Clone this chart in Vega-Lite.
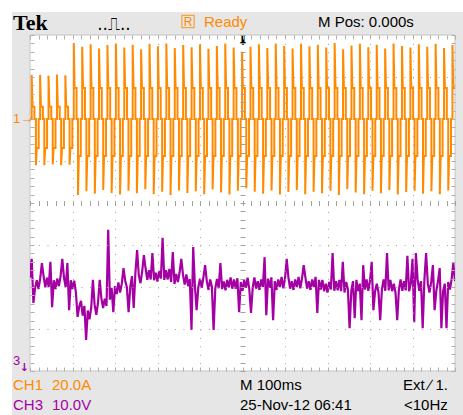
{
"$schema":"https://vega.github.io/schema/vega-lite/v6.json",
"width":425,"height":336,
"autosize":{"type":"none"},
"padding":{"left":30,"top":35,"right":8,"bottom":44},
"background":"white",
"config":{"view":{"stroke":null}},
"datasets":{
"ch1":[
{"t":0,"v":2},
{"t":4,"v":2},{"t":4,"v":3.05},{"t":6,"v":2.29},{"t":10.5,"v":2.29},{"t":10.5,"v":2},{"t":13.9,"v":2},{"t":13.9,"v":0.9},{"t":15.9,"v":1.31},{"t":20.4,"v":1.31},{"t":20.4,"v":2},
{"t":23.8,"v":2},{"t":23.8,"v":3.05},{"t":25.8,"v":2.29},{"t":30.3,"v":2.29},{"t":30.3,"v":2},{"t":33.7,"v":2},{"t":33.7,"v":0.9},{"t":35.7,"v":1.31},{"t":40.2,"v":1.31},{"t":40.2,"v":2},
{"t":43.6,"v":2},{"t":43.6,"v":3.03},{"t":45.6,"v":2.29},{"t":50.1,"v":2.29},{"t":50.1,"v":2},{"t":53.5,"v":2},{"t":53.5,"v":0.92},{"t":55.5,"v":1.31},{"t":60,"v":1.31},{"t":60,"v":2},
{"t":63.4,"v":2},{"t":63.4,"v":3.06},{"t":65.4,"v":2.29},{"t":69.9,"v":2.29},{"t":69.9,"v":2},{"t":73.3,"v":2},{"t":73.3,"v":0.9},{"t":75.3,"v":1.31},{"t":79.8,"v":1.31},{"t":79.8,"v":2},
{"t":83.2,"v":2},{"t":83.2,"v":3.04},{"t":85.2,"v":2.29},{"t":89.7,"v":2.29},{"t":89.7,"v":2},{"t":93.1,"v":2},{"t":93.1,"v":0.91},{"t":95.1,"v":1.31},{"t":99.6,"v":1.31},{"t":99.6,"v":2},
{"t":103,"v":2},{"t":103,"v":3.81},{"t":105,"v":2.74},{"t":109.5,"v":2.74},{"t":109.5,"v":2},{"t":112.9,"v":2},{"t":112.9,"v":0.19},{"t":114.9,"v":1.12},{"t":119.4,"v":1.12},{"t":119.4,"v":2},
{"t":122.8,"v":2},{"t":122.8,"v":3.72},{"t":124.8,"v":2.74},{"t":129.3,"v":2.74},{"t":129.3,"v":2},{"t":132.7,"v":2},{"t":132.7,"v":0.28},{"t":134.7,"v":1.12},{"t":139.2,"v":1.12},{"t":139.2,"v":2},
{"t":142.6,"v":2},{"t":142.6,"v":3.78},{"t":144.6,"v":2.74},{"t":149.1,"v":2.74},{"t":149.1,"v":2},{"t":152.5,"v":2},{"t":152.5,"v":0.22},{"t":154.5,"v":1.12},{"t":159,"v":1.12},{"t":159,"v":2},
{"t":162.4,"v":2},{"t":162.4,"v":3.68},{"t":164.4,"v":2.74},{"t":168.9,"v":2.74},{"t":168.9,"v":2},{"t":172.3,"v":2},{"t":172.3,"v":0.31},{"t":174.3,"v":1.12},{"t":178.8,"v":1.12},{"t":178.8,"v":2},
{"t":182.2,"v":2},{"t":182.2,"v":3.76},{"t":184.2,"v":2.74},{"t":188.7,"v":2.74},{"t":188.7,"v":2},{"t":192.1,"v":2},{"t":192.1,"v":0.24},{"t":194.1,"v":1.12},{"t":198.6,"v":1.12},{"t":198.6,"v":2},
{"t":202,"v":2},{"t":202,"v":3.8},{"t":204,"v":2.74},{"t":208.5,"v":2.74},{"t":208.5,"v":2},{"t":211.9,"v":2},{"t":211.9,"v":0.2},{"t":213.9,"v":1.12},{"t":218.4,"v":1.12},{"t":218.4,"v":2},
{"t":221.8,"v":2},{"t":221.8,"v":3.7},{"t":223.8,"v":2.74},{"t":228.3,"v":2.74},{"t":228.3,"v":2},{"t":231.7,"v":2},{"t":231.7,"v":0.29},{"t":233.7,"v":1.12},{"t":238.2,"v":1.12},{"t":238.2,"v":2},
{"t":241.6,"v":2},{"t":241.6,"v":3.77},{"t":243.6,"v":2.74},{"t":248.1,"v":2.74},{"t":248.1,"v":2},{"t":251.5,"v":2},{"t":251.5,"v":0.23},{"t":253.5,"v":1.12},{"t":258,"v":1.12},{"t":258,"v":2},
{"t":261.4,"v":2},{"t":261.4,"v":3.66},{"t":263.4,"v":2.74},{"t":267.9,"v":2.74},{"t":267.9,"v":2},{"t":271.3,"v":2},{"t":271.3,"v":0.33},{"t":273.3,"v":1.12},{"t":277.8,"v":1.12},{"t":277.8,"v":2},
{"t":281.2,"v":2},{"t":281.2,"v":3.79},{"t":283.2,"v":2.74},{"t":287.7,"v":2.74},{"t":287.7,"v":2},{"t":291.1,"v":2},{"t":291.1,"v":0.21},{"t":293.1,"v":1.12},{"t":297.6,"v":1.12},{"t":297.6,"v":2},
{"t":301,"v":2},{"t":301,"v":3.73},{"t":303,"v":2.74},{"t":307.5,"v":2.74},{"t":307.5,"v":2},{"t":310.9,"v":2},{"t":310.9,"v":0.27},{"t":312.9,"v":1.12},{"t":317.4,"v":1.12},{"t":317.4,"v":2},
{"t":320.8,"v":2},{"t":320.8,"v":3.8},{"t":322.8,"v":2.74},{"t":327.3,"v":2.74},{"t":327.3,"v":2},{"t":330.7,"v":2},{"t":330.7,"v":0.19},{"t":332.7,"v":1.12},{"t":337.2,"v":1.12},{"t":337.2,"v":2},
{"t":340.6,"v":2},{"t":340.6,"v":3.69},{"t":342.6,"v":2.74},{"t":347.1,"v":2.74},{"t":347.1,"v":2},{"t":350.5,"v":2},{"t":350.5,"v":0.3},{"t":352.5,"v":1.12},{"t":357,"v":1.12},{"t":357,"v":2},
{"t":360.4,"v":2},{"t":360.4,"v":3.76},{"t":362.4,"v":2.74},{"t":366.9,"v":2.74},{"t":366.9,"v":2},{"t":370.3,"v":2},{"t":370.3,"v":0.24},{"t":372.3,"v":1.12},{"t":376.8,"v":1.12},{"t":376.8,"v":2},
{"t":380.2,"v":2},{"t":380.2,"v":3.71},{"t":382.2,"v":2.74},{"t":386.7,"v":2.74},{"t":386.7,"v":2},{"t":390.1,"v":2},{"t":390.1,"v":0.28},{"t":392.1,"v":1.12},{"t":396.6,"v":1.12},{"t":396.6,"v":2},
{"t":400,"v":2},{"t":400,"v":3.78},{"t":402,"v":2.74},{"t":406.5,"v":2.74},{"t":406.5,"v":2},{"t":409.9,"v":2},{"t":409.9,"v":0.21},{"t":411.9,"v":1.12},{"t":416.4,"v":1.12},{"t":416.4,"v":2},
{"t":419.8,"v":2},{"t":419.8,"v":3.67},{"t":421.8,"v":2.74},{"t":426.3,"v":2.74},{"t":426.3,"v":2},{"t":429.7,"v":2},{"t":429.7,"v":0.32},{"t":431.7,"v":1.12},{"t":436.2,"v":1.12},{"t":436.2,"v":2},
{"t":439.6,"v":2},{"t":439.6,"v":3.74},{"t":441.6,"v":2.74},{"t":446.1,"v":2.74},{"t":446.1,"v":2},{"t":449.5,"v":2},{"t":449.5,"v":0.25},{"t":451.5,"v":1.12},{"t":456,"v":1.12},{"t":456,"v":2},
{"t":459.4,"v":2},{"t":459.4,"v":3.8},{"t":461.4,"v":2.74},{"t":465.9,"v":2.74},{"t":465.9,"v":2},{"t":469.3,"v":2},{"t":469.3,"v":0.2},{"t":471.3,"v":1.12},{"t":475.8,"v":1.12},{"t":475.8,"v":2},
{"t":479.2,"v":2},{"t":479.2,"v":3.7},{"t":481.2,"v":2.74},{"t":485.7,"v":2.74},{"t":485.7,"v":2},{"t":489.1,"v":2},{"t":489.1,"v":0.29},{"t":491.1,"v":1.12},{"t":495.6,"v":1.12},{"t":495.6,"v":2},
{"t":499,"v":2},{"t":499,"v":3.6},{"t":501,"v":2.74},{"t":505.5,"v":2.74},{"t":505.5,"v":2},{"t":508.9,"v":2},{"t":508.9,"v":0.35},{"t":510.9,"v":1.12},{"t":515.4,"v":1.12},{"t":515.4,"v":2},
{"t":518.8,"v":2},{"t":518.8,"v":3.72},{"t":520.8,"v":2.74},{"t":525.3,"v":2.74},{"t":525.3,"v":2},{"t":528.7,"v":2},{"t":528.7,"v":0.27},{"t":530.7,"v":1.12},{"t":535.2,"v":1.12},{"t":535.2,"v":2},
{"t":538.6,"v":2},{"t":538.6,"v":3.78},{"t":540.6,"v":2.74},{"t":545.1,"v":2.74},{"t":545.1,"v":2},{"t":548.5,"v":2},{"t":548.5,"v":0.22},{"t":550.5,"v":1.12},{"t":555,"v":1.12},{"t":555,"v":2},
{"t":558.4,"v":2},{"t":558.4,"v":3.69},{"t":560.4,"v":2.74},{"t":564.9,"v":2.74},{"t":564.9,"v":2},{"t":568.3,"v":2},{"t":568.3,"v":0.3},{"t":570.3,"v":1.12},{"t":574.8,"v":1.12},{"t":574.8,"v":2},
{"t":578.2,"v":2},{"t":578.2,"v":3.8},{"t":580.2,"v":2.74},{"t":584.7,"v":2.74},{"t":584.7,"v":2},{"t":588.1,"v":2},{"t":588.1,"v":0.2},{"t":590.1,"v":1.12},{"t":594.6,"v":1.12},{"t":594.6,"v":2},
{"t":598,"v":2},{"t":598,"v":3.74},{"t":600,"v":2.74},{"t":604.5,"v":2.74},{"t":604.5,"v":2},{"t":607.9,"v":2},{"t":607.9,"v":0.26},{"t":609.9,"v":1.12},{"t":614.4,"v":1.12},{"t":614.4,"v":2},
{"t":617.8,"v":2},{"t":617.8,"v":3.68},{"t":619.8,"v":2.74},{"t":624.3,"v":2.74},{"t":624.3,"v":2},{"t":627.7,"v":2},{"t":627.7,"v":0.31},{"t":629.7,"v":1.12},{"t":634.2,"v":1.12},{"t":634.2,"v":2},
{"t":637.6,"v":2},{"t":637.6,"v":3.79},{"t":639.6,"v":2.74},{"t":644.1,"v":2.74},{"t":644.1,"v":2},{"t":647.5,"v":2},{"t":647.5,"v":0.21},{"t":649.5,"v":1.12},{"t":654,"v":1.12},{"t":654,"v":2},
{"t":657.4,"v":2},{"t":657.4,"v":3.73},{"t":659.4,"v":2.74},{"t":663.9,"v":2.74},{"t":663.9,"v":2},{"t":667.3,"v":2},{"t":667.3,"v":0.27},{"t":669.3,"v":1.12},{"t":673.8,"v":1.12},{"t":673.8,"v":2},
{"t":677.2,"v":2},{"t":677.2,"v":3.77},{"t":679.2,"v":2.74},{"t":683.7,"v":2.74},{"t":683.7,"v":2},{"t":687.1,"v":2},{"t":687.1,"v":0.23},{"t":689.1,"v":1.12},{"t":693.6,"v":1.12},{"t":693.6,"v":2},
{"t":697,"v":2},{"t":697,"v":3.7},{"t":699,"v":2.74},{"t":703.5,"v":2.74},{"t":703.5,"v":2},{"t":706.9,"v":2},{"t":706.9,"v":0.29},{"t":708.9,"v":1.12},{"t":713.4,"v":1.12},{"t":713.4,"v":2},
{"t":716.8,"v":2},{"t":716.8,"v":3.81},{"t":718.8,"v":2.74},{"t":723.3,"v":2.74},{"t":723.3,"v":2},{"t":726.7,"v":2},{"t":726.7,"v":0.19},{"t":728.7,"v":1.12},{"t":733.2,"v":1.12},{"t":733.2,"v":2},
{"t":736.6,"v":2},{"t":736.6,"v":3.66},{"t":738.6,"v":2.74},{"t":743.1,"v":2.74},{"t":743.1,"v":2},{"t":746.5,"v":2},{"t":746.5,"v":0.33},{"t":748.5,"v":1.12},{"t":753,"v":1.12},{"t":753,"v":2},
{"t":756.4,"v":2},{"t":756.4,"v":3.75},{"t":758.4,"v":2.74},{"t":762.9,"v":2.74},{"t":762.9,"v":2},{"t":766.3,"v":2},{"t":766.3,"v":0.25},{"t":768.3,"v":1.12},{"t":772.8,"v":1.12},{"t":772.8,"v":2},
{"t":776.2,"v":2},{"t":776.2,"v":3.79},{"t":778.2,"v":2.74},{"t":782.7,"v":2.74},{"t":782.7,"v":2},{"t":786.1,"v":2},{"t":786.1,"v":0.21},{"t":788.1,"v":1.12},{"t":792.6,"v":1.12},{"t":792.6,"v":2},
{"t":796,"v":2},{"t":796,"v":3.71},{"t":798,"v":2.74},{"t":802.5,"v":2.74},{"t":802.5,"v":2},{"t":805.9,"v":2},{"t":805.9,"v":0.29},{"t":807.9,"v":1.12},{"t":812.4,"v":1.12},{"t":812.4,"v":2},
{"t":815.8,"v":2},{"t":815.8,"v":3.77},{"t":817.8,"v":2.74},{"t":822.3,"v":2.74},{"t":822.3,"v":2},{"t":825.7,"v":2},{"t":825.7,"v":0.23},{"t":827.7,"v":1.12},{"t":832.2,"v":1.12},{"t":832.2,"v":2},
{"t":835.6,"v":2},{"t":835.6,"v":3.68},{"t":837.6,"v":2.74},{"t":842.1,"v":2.74},{"t":842.1,"v":2},{"t":845.5,"v":2},{"t":845.5,"v":0.31},{"t":847.5,"v":1.12},{"t":852,"v":1.12},{"t":852,"v":2},
{"t":855.4,"v":2},{"t":855.4,"v":3.8},{"t":857.4,"v":2.74},{"t":861.9,"v":2.74},{"t":861.9,"v":2},{"t":865.3,"v":2},{"t":865.3,"v":0.2},{"t":867.3,"v":1.12},{"t":871.8,"v":1.12},{"t":871.8,"v":2},
{"t":875.2,"v":2},{"t":875.2,"v":3.74},{"t":877.2,"v":2.74},{"t":881.7,"v":2.74},{"t":881.7,"v":2},{"t":885.1,"v":2},{"t":885.1,"v":0.26},{"t":887.1,"v":1.12},{"t":891.6,"v":1.12},{"t":891.6,"v":2},
{"t":895,"v":2},{"t":895,"v":3.7},{"t":897,"v":2.74},{"t":901.5,"v":2.74},{"t":901.5,"v":2},{"t":904.9,"v":2},{"t":904.9,"v":0.29},{"t":906.9,"v":1.12},{"t":911.4,"v":1.12},{"t":911.4,"v":2},
{"t":914.8,"v":2},{"t":914.8,"v":3.78},{"t":916.8,"v":2.74},{"t":921.3,"v":2.74},{"t":921.3,"v":2},{"t":924.7,"v":2},{"t":924.7,"v":0.22},{"t":926.7,"v":1.12},{"t":931.2,"v":1.12},{"t":931.2,"v":2},
{"t":934.6,"v":2},{"t":934.6,"v":3.72},{"t":936.6,"v":2.74},{"t":941.1,"v":2.74},{"t":941.1,"v":2},{"t":944.5,"v":2},{"t":944.5,"v":0.28},{"t":946.5,"v":1.12},{"t":951,"v":1.12},{"t":951,"v":2},
{"t":954.4,"v":2},{"t":954.4,"v":3.79},{"t":956.4,"v":2.74},{"t":960.9,"v":2.74},{"t":960.9,"v":2},{"t":964.3,"v":2},{"t":964.3,"v":0.21},{"t":966.3,"v":1.12},{"t":970.8,"v":1.12},{"t":970.8,"v":2},
{"t":974.2,"v":2},{"t":974.2,"v":3.69},{"t":976.2,"v":2.74},{"t":980.7,"v":2.74},{"t":980.7,"v":2},{"t":984.1,"v":2},{"t":984.1,"v":0.3},{"t":986.1,"v":1.12},{"t":990.6,"v":1.12},{"t":990.6,"v":2},
{"t":994,"v":2},{"t":994,"v":3.76},{"t":996,"v":2.74},{"t":1000.5,"v":2.74}
],
"ch3":[
{"t":0,"v":-1.78},{"t":4,"v":-1.33},{"t":8,"v":-2.38},{"t":12,"v":-2.02},{"t":16,"v":-1.84},{"t":20,"v":-2.05},{"t":24,"v":-1.8},{"t":28,"v":-1.43},{"t":32,"v":-1.74},{"t":36,"v":-2.01},
{"t":40,"v":-1.78},{"t":44,"v":-2.0},{"t":48,"v":-1.4},{"t":52,"v":-2.48},{"t":56,"v":-1.84},{"t":60,"v":-2.05},{"t":64,"v":-1.8},{"t":68,"v":-1.98},{"t":72,"v":-1.74},{"t":76,"v":-1.33},
{"t":80,"v":-1.78},{"t":84,"v":-2.0},{"t":88,"v":-1.43},{"t":92,"v":-2.55},{"t":96,"v":-1.84},{"t":100,"v":-2.05},{"t":104,"v":-1.85},{"t":108,"v":-2.13},{"t":112,"v":-2.71},{"t":116,"v":-2.46},
{"t":120,"v":-2.33},{"t":124,"v":-2.68},{"t":128,"v":-2.45},{"t":132,"v":-3.26},{"t":136,"v":-2.56},{"t":140,"v":-2.77},{"t":144,"v":-2.5},{"t":148,"v":-1.83},{"t":152,"v":-2.42},{"t":156,"v":-2.66},
{"t":160,"v":-2.38},{"t":164,"v":-1.83},{"t":168,"v":-2.27},{"t":172,"v":-2.5},{"t":176,"v":-2.28},{"t":180,"v":-2.45},{"t":184,"v":-0.64},{"t":188,"v":-2.3},{"t":192,"v":-2.02},{"t":196,"v":-2.6},
{"t":200,"v":-1.98},{"t":204,"v":-2.17},{"t":208,"v":-1.89},{"t":212,"v":-2.13},{"t":216,"v":-1.92},{"t":220,"v":-1.55},{"t":224,"v":-1.85},{"t":228,"v":-2.01},{"t":232,"v":-2.6},{"t":236,"v":-1.99},
{"t":240,"v":-1.74},{"t":244,"v":-2.5},{"t":248,"v":-1.67},{"t":252,"v":-1.12},{"t":256,"v":-1.72},{"t":260,"v":-1.91},{"t":264,"v":-1.62},{"t":268,"v":-1.24},{"t":272,"v":-1.56},{"t":276,"v":-1.83},
{"t":280,"v":-1.6},{"t":284,"v":-1.82},{"t":288,"v":-1.19},{"t":292,"v":-1.84},{"t":296,"v":-1.66},{"t":300,"v":-1.87},{"t":304,"v":-1.62},{"t":308,"v":-1.8},{"t":312,"v":-0.83},{"t":316,"v":-1.83},
{"t":320,"v":-1.6},{"t":324,"v":-1.82},{"t":328,"v":-1.57},{"t":332,"v":-1.88},{"t":336,"v":-1.17},{"t":340,"v":-1.93},{"t":344,"v":-1.69},{"t":348,"v":-1.88},{"t":352,"v":-1.65},{"t":356,"v":-1.33},
{"t":360,"v":-1.71},{"t":364,"v":-1.94},{"t":368,"v":-1.7},{"t":372,"v":-1.98},{"t":376,"v":-1.81},{"t":380,"v":-3.02},{"t":384,"v":-1.05},{"t":388,"v":-1.97},{"t":392,"v":-2.55},{"t":396,"v":-2.01},
{"t":400,"v":-1.8},{"t":404,"v":-2.02},{"t":408,"v":-1.77},{"t":412,"v":-1.48},{"t":416,"v":-1.86},{"t":420,"v":-2.07},{"t":424,"v":-1.82},{"t":428,"v":-2.0},{"t":432,"v":-3.02},{"t":436,"v":-2.03},
{"t":440,"v":-1.81},{"t":444,"v":-2.03},{"t":448,"v":-1.43},{"t":452,"v":-2.05},{"t":456,"v":-1.87},{"t":460,"v":-2.08},{"t":464,"v":-1.83},{"t":468,"v":-2.01},{"t":472,"v":-1.77},{"t":476,"v":-2.04},
{"t":480,"v":-1.82},{"t":484,"v":-2.04},{"t":488,"v":-1.79},{"t":492,"v":-2.6},{"t":496,"v":-1.88},{"t":500,"v":-2.09},{"t":504,"v":-1.84},{"t":508,"v":-2.02},{"t":512,"v":-1.78},{"t":516,"v":-2.05},
{"t":520,"v":-2.62},{"t":524,"v":-2.02},{"t":528,"v":-1.77},{"t":532,"v":-2.04},{"t":536,"v":-1.86},{"t":540,"v":-2.07},{"t":544,"v":-1.82},{"t":548,"v":-2.0},{"t":552,"v":-1.29},{"t":556,"v":-2.67},
{"t":560,"v":-1.8},{"t":564,"v":-2.02},{"t":568,"v":-1.77},{"t":572,"v":-2.79},{"t":576,"v":-1.86},{"t":580,"v":-2.07},{"t":584,"v":-1.82},{"t":588,"v":-2.0},{"t":592,"v":-1.76},{"t":596,"v":-2.03},
{"t":600,"v":-1.8},{"t":604,"v":-1.33},{"t":608,"v":-1.77},{"t":612,"v":-2.04},{"t":616,"v":-1.86},{"t":620,"v":-2.07},{"t":624,"v":-1.82},{"t":628,"v":-2.0},{"t":632,"v":-1.76},{"t":636,"v":-2.03},
{"t":640,"v":-1.8},{"t":644,"v":-1.48},{"t":648,"v":-1.77},{"t":652,"v":-2.04},{"t":656,"v":-1.86},{"t":660,"v":-2.07},{"t":664,"v":-1.82},{"t":668,"v":-2.0},{"t":672,"v":-1.76},{"t":676,"v":-2.62},
{"t":680,"v":-1.83},{"t":684,"v":-2.06},{"t":688,"v":-1.83},{"t":692,"v":-2.1},{"t":696,"v":-1.92},{"t":700,"v":-2.13},{"t":704,"v":-1.88},{"t":708,"v":-2.06},{"t":712,"v":-1.19},{"t":716,"v":-2.09},
{"t":720,"v":-1.86},{"t":724,"v":-2.08},{"t":728,"v":-1.83},{"t":732,"v":-2.1},{"t":736,"v":-1.4},{"t":740,"v":-2.13},{"t":744,"v":-1.88},{"t":748,"v":-2.06},{"t":752,"v":-2.98},{"t":756,"v":-2.09},
{"t":760,"v":-1.86},{"t":764,"v":-2.74},{"t":768,"v":-1.83},{"t":772,"v":-2.1},{"t":776,"v":-1.92},{"t":780,"v":-2.79},{"t":784,"v":-1.48},{"t":788,"v":-2.06},{"t":792,"v":-1.82},{"t":796,"v":-2.09},
{"t":800,"v":-1.86},{"t":804,"v":-1.4},{"t":808,"v":-2.55},{"t":812,"v":-2.1},{"t":816,"v":-1.92},{"t":820,"v":-2.13},{"t":824,"v":-2.79},{"t":828,"v":-2.06},{"t":832,"v":-1.82},{"t":836,"v":-2.09},
{"t":840,"v":-1.19},{"t":844,"v":-2.08},{"t":848,"v":-1.83},{"t":852,"v":-2.1},{"t":856,"v":-1.92},{"t":860,"v":-2.13},{"t":864,"v":-2.79},{"t":868,"v":-2.06},{"t":872,"v":-1.82},{"t":876,"v":-2.09},
{"t":880,"v":-1.86},{"t":884,"v":-2.08},{"t":888,"v":-1.26},{"t":892,"v":-2.1},{"t":896,"v":-1.92},{"t":900,"v":-1.33},{"t":904,"v":-2.84},{"t":908,"v":-1.19},{"t":912,"v":-1.82},{"t":916,"v":-2.09},
{"t":920,"v":-1.86},{"t":924,"v":-2.98},{"t":928,"v":-1.83},{"t":932,"v":-1.19},{"t":936,"v":-1.92},{"t":940,"v":-2.13},{"t":944,"v":-1.88},{"t":948,"v":-1.48},{"t":952,"v":-2.55},{"t":956,"v":-2.09},
{"t":960,"v":-1.86},{"t":964,"v":-1.55},{"t":968,"v":-2.98},{"t":972,"v":-2.1},{"t":976,"v":-1.92},{"t":980,"v":-2.98},{"t":984,"v":-1.88},{"t":988,"v":-2.06},{"t":992,"v":-1.82},{"t":996,"v":-1.43},
{"t":1000,"v":-1.86}
]
},
"resolve":{"axis":{"x":"independent","y":"independent"}},
"layer":[
{"data":{"values":[{}]},
 "mark":{"type":"rect","color":"#e6e6e6","clip":false},
 "encoding":{
  "x":{"datum":-42.4,"type":"quantitative","scale":{"domain":[0,1000],"nice":false,"zero":false},
   "axis":{"orient":"bottom","values":[100,200,300,400,600,700,800,900],"grid":true,"gridDash":[1,7.4],"gridColor":"#a0a0a0","ticks":false,"labels":false,"domain":false,"title":null,"zindex":1}},
  "x2":{"datum":1020},
  "y":{"datum":4.55,"type":"quantitative","scale":{"domain":[-4,4],"nice":false,"zero":false},
   "axis":{"orient":"left","values":[-3,-2,-1,1,2,3],"grid":true,"gridDash":[1,7.5],"gridColor":"#a0a0a0","ticks":false,"labels":false,"domain":false,"title":null,"zindex":1}},
  "y2":{"datum":-5.2}}},
{"data":{"values":[{}]},
 "mark":{"type":"rect","fill":"white","stroke":"#c4c4c4","strokeWidth":1,"clip":false},
 "encoding":{
  "x":{"datum":0,"type":"quantitative",
   "axis":{"orient":"bottom","offset":-4,"tickSize":4,"tickColor":"#b0b0b0","values":[0,20,40,60,80,100,120,140,160,180,200,220,240,260,280,300,320,340,360,380,400,420,440,460,480,500,520,540,560,580,600,620,640,660,680,700,720,740,760,780,800,820,840,860,880,900,920,940,960,980,1000],"labels":false,"domain":false,"grid":false,"title":null,"zindex":1}},
  "x2":{"datum":1000},
  "y":{"datum":-4,"type":"quantitative",
   "axis":{"orient":"left","offset":-4,"tickSize":4,"tickColor":"#b0b0b0","values":[-4,-3.8,-3.6,-3.4,-3.2,-3,-2.8,-2.6,-2.4,-2.2,-2,-1.8,-1.6,-1.4,-1.2,-1,-0.8,-0.6,-0.4,-0.2,0,0.2,0.4,0.6,0.8,1,1.2,1.4,1.6,1.8,2,2.2,2.4,2.6,2.8,3,3.2,3.4,3.6,3.8,4],"labels":false,"domain":false,"grid":false,"title":null,"zindex":1}},
  "y2":{"datum":4}}},
{"data":{"name":"ch1"},
 "mark":{"type":"line","color":"#ff8a00","strokeWidth":2,"clip":true},
 "encoding":{
  "x":{"field":"t","type":"quantitative",
   "axis":{"orient":"top","offset":-4,"tickSize":4,"tickColor":"#b0b0b0","values":[0,20,40,60,80,100,120,140,160,180,200,220,240,260,280,300,320,340,360,380,400,420,440,460,480,500,520,540,560,580,600,620,640,660,680,700,720,740,760,780,800,820,840,860,880,900,920,940,960,980,1000],"labels":false,"domain":false,"grid":false,"title":null,"zindex":1}},
  "y":{"field":"v","type":"quantitative",
   "axis":{"orient":"right","offset":-4,"tickSize":4,"tickColor":"#b0b0b0","values":[-4,-3.8,-3.6,-3.4,-3.2,-3,-2.8,-2.6,-2.4,-2.2,-2,-1.8,-1.6,-1.4,-1.2,-1,-0.8,-0.6,-0.4,-0.2,0,0.2,0.4,0.6,0.8,1,1.2,1.4,1.6,1.8,2,2.2,2.4,2.6,2.8,3,3.2,3.4,3.6,3.8,4],"labels":false,"domain":false,"grid":false,"title":null,"zindex":1}},
  "order":{"value":null}}},
{"data":{"name":"ch3"},
 "mark":{"type":"line","color":"#a400a4","strokeWidth":2.2,"clip":true},
 "encoding":{
  "x":{"field":"t","type":"quantitative",
   "axis":{"orient":"bottom","offset":-170.5,"tickSize":5,"tickColor":"#a0a0a0","values":[0,20,40,60,80,100,120,140,160,180,200,220,240,260,280,300,320,340,360,380,400,420,440,460,480,500,520,540,560,580,600,620,640,660,680,700,720,740,760,780,800,820,840,860,880,900,920,940,960,980,1000],"labels":false,"domain":false,"grid":false,"title":null,"zindex":1}},
  "y":{"field":"v","type":"quantitative",
   "axis":{"orient":"left","offset":-215,"tickSize":5,"tickColor":"#a0a0a0","values":[-4,-3.8,-3.6,-3.4,-3.2,-3,-2.8,-2.6,-2.4,-2.2,-2,-1.8,-1.6,-1.4,-1.2,-1,-0.8,-0.6,-0.4,-0.2,0,0.2,0.4,0.6,0.8,1,1.2,1.4,1.6,1.8,2,2.2,2.4,2.6,2.8,3,3.2,3.4,3.6,3.8,4],"labels":false,"domain":false,"grid":false,"title":null,"zindex":1}},
  "order":{"value":null}}},
{"data":{"values":[{}]},"mark":{"type":"text","text":"Tek","font":"Liberation Serif","fontWeight":"bold","fontSize":22,"align":"left","baseline":"alphabetic","color":"#000000"},
 "encoding":{"x":{"datum":-40,"type":"quantitative","axis":null},"y":{"datum":4.12,"type":"quantitative","axis":null}}},
{"data":{"values":[{}]},"mark":{"type":"text","text":"..⎍..","font":"DejaVu Sans","fontSize":17,"align":"left","baseline":"alphabetic","color":"#000000"},
 "encoding":{"x":{"datum":158,"type":"quantitative","axis":null},"y":{"datum":4.12,"type":"quantitative","axis":null}}},
{"data":{"values":[{}]},"mark":{"type":"point","shape":"square","size":150,"filled":false,"stroke":"#ff8a00","strokeWidth":1.3},
 "encoding":{"x":{"datum":371.8,"type":"quantitative","axis":null},"y":{"datum":4.32,"type":"quantitative","axis":null}}},
{"data":{"values":[{}]},"mark":{"type":"text","text":"R","font":"Liberation Sans","fontSize":12,"align":"center","baseline":"middle","color":"#ff8a00"},
 "encoding":{"x":{"datum":371.8,"type":"quantitative","axis":null},"y":{"datum":4.31,"type":"quantitative","axis":null}}},
{"data":{"values":[{}]},"mark":{"type":"text","text":"Ready","font":"Liberation Sans","fontSize":15,"align":"left","baseline":"alphabetic","color":"#ff8a00"},
 "encoding":{"x":{"datum":409.4,"type":"quantitative","axis":null},"y":{"datum":4.19,"type":"quantitative","axis":null}}},
{"data":{"values":[{}]},"mark":{"type":"text","text":"M Pos: 0.000s","font":"Liberation Sans","fontSize":15,"align":"left","baseline":"alphabetic","color":"#000000"},
 "encoding":{"x":{"datum":677.6,"type":"quantitative","axis":null},"y":{"datum":4.19,"type":"quantitative","axis":null}}},
{"data":{"values":[{}]},"mark":{"type":"text","text":"⬇","font":"DejaVu Sans","fontSize":13,"align":"center","baseline":"middle","color":"#000000"},
 "encoding":{"x":{"datum":501,"type":"quantitative","axis":null},"y":{"datum":3.86,"type":"quantitative","axis":null}}},
{"data":{"values":[{}]},"mark":{"type":"text","text":"1→","font":"Liberation Sans","fontSize":13,"align":"left","baseline":"middle","color":"#ff8a00"},
 "encoding":{"x":{"datum":-40,"type":"quantitative","axis":null},"y":{"datum":2.0,"type":"quantitative","axis":null}}},
{"data":{"values":[{}]},"mark":{"type":"text","text":"3","font":"Liberation Sans","fontSize":13,"align":"left","baseline":"middle","color":"#a400a4"},
 "encoding":{"x":{"datum":-40,"type":"quantitative","axis":null},"y":{"datum":-3.75,"type":"quantitative","axis":null}}},
{"data":{"values":[{}]},"mark":{"type":"text","text":"↓","font":"DejaVu Sans","fontWeight":"bold","fontSize":11,"align":"center","baseline":"middle","color":"#a400a4"},
 "encoding":{"x":{"datum":-13,"type":"quantitative","axis":null},"y":{"datum":-3.93,"type":"quantitative","axis":null}}},
{"data":{"values":[{}]},"mark":{"type":"text","text":"CH1","font":"Liberation Sans","fontSize":15,"align":"left","baseline":"alphabetic","color":"#ff8a00"},
 "encoding":{"x":{"datum":-40,"type":"quantitative","axis":null},"y":{"datum":-4.45,"type":"quantitative","axis":null}}},
{"data":{"values":[{}]},"mark":{"type":"text","text":"20.0A","font":"Liberation Sans","fontSize":15,"align":"left","baseline":"alphabetic","color":"#ff8a00"},
 "encoding":{"x":{"datum":51.8,"type":"quantitative","axis":null},"y":{"datum":-4.45,"type":"quantitative","axis":null}}},
{"data":{"values":[{}]},"mark":{"type":"text","text":"M 100ms","font":"Liberation Sans","fontSize":15,"align":"left","baseline":"alphabetic","color":"#000000"},
 "encoding":{"x":{"datum":494.1,"type":"quantitative","axis":null},"y":{"datum":-4.45,"type":"quantitative","axis":null}}},
{"data":{"values":[{}]},"mark":{"type":"text","text":"Ext ∕ 1.","font":"Liberation Sans","fontSize":15,"align":"left","baseline":"alphabetic","color":"#000000"},
 "encoding":{"x":{"datum":877.6,"type":"quantitative","axis":null},"y":{"datum":-4.45,"type":"quantitative","axis":null}}},
{"data":{"values":[{}]},"mark":{"type":"text","text":"CH3","font":"Liberation Sans","fontSize":15,"align":"left","baseline":"alphabetic","color":"#a400a4"},
 "encoding":{"x":{"datum":-40,"type":"quantitative","axis":null},"y":{"datum":-4.93,"type":"quantitative","axis":null}}},
{"data":{"values":[{}]},"mark":{"type":"text","text":"10.0V","font":"Liberation Sans","fontSize":15,"align":"left","baseline":"alphabetic","color":"#a400a4"},
 "encoding":{"x":{"datum":51.8,"type":"quantitative","axis":null},"y":{"datum":-4.93,"type":"quantitative","axis":null}}},
{"data":{"values":[{}]},"mark":{"type":"text","text":"25-Nov-12 06:41","font":"Liberation Sans","fontSize":15,"align":"left","baseline":"alphabetic","color":"#000000"},
 "encoding":{"x":{"datum":494.1,"type":"quantitative","axis":null},"y":{"datum":-4.93,"type":"quantitative","axis":null}}},
{"data":{"values":[{}]},"mark":{"type":"text","text":"<10Hz","font":"Liberation Sans","fontSize":15,"align":"left","baseline":"alphabetic","color":"#000000"},
 "encoding":{"x":{"datum":880,"type":"quantitative","axis":null},"y":{"datum":-4.93,"type":"quantitative","axis":null}}}
]
}
